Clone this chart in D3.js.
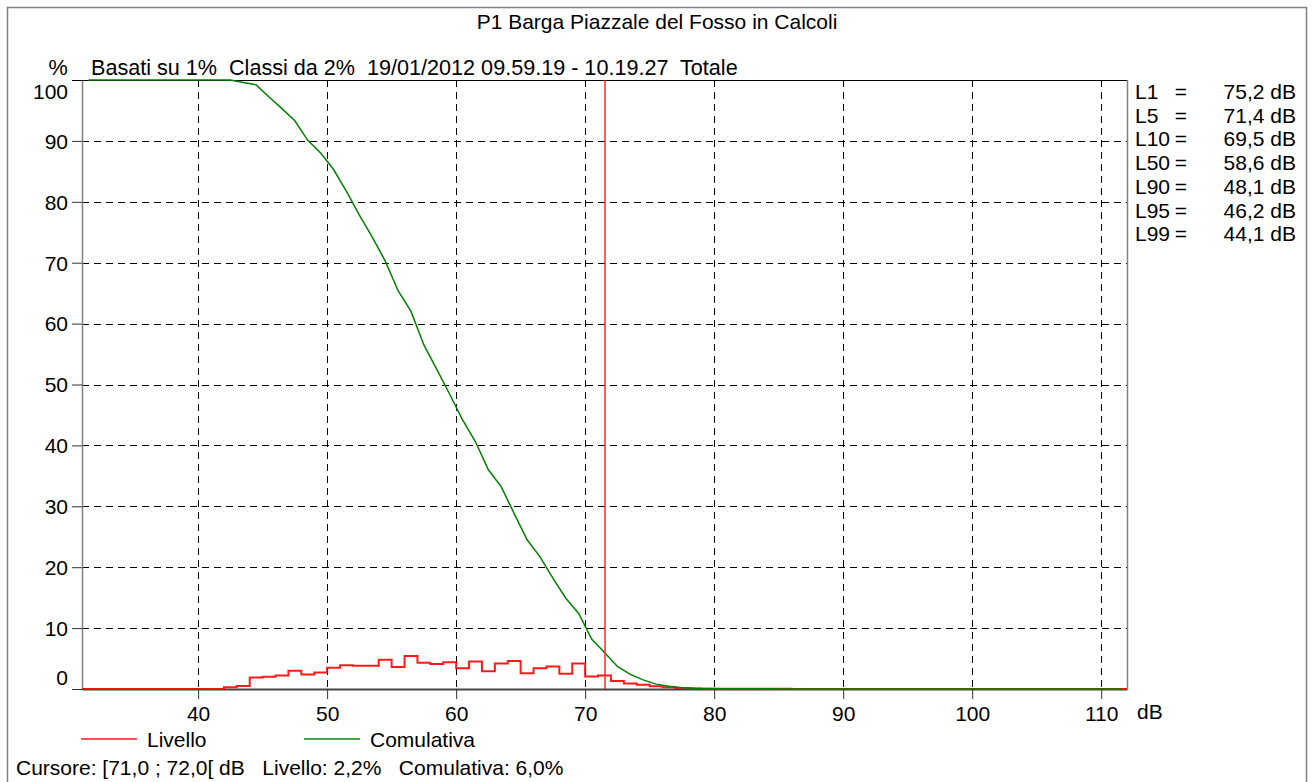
<!DOCTYPE html>
<html>
<head>
<meta charset="utf-8">
<script src="https://cdn.jsdelivr.net/npm/d3@7"></script>
<style>
  html, body { margin: 0; padding: 0; background: #fff; }
  svg { display: block; }
  text { font-family: "Liberation Sans", Arial, Helvetica, sans-serif; fill: #000; white-space: pre; }
</style>
</head>
<body>
<svg id="chart" width="1313" height="782"></svg>
<script>
// Level classes (lower edge of each 1 dB class) and percentage of time in each class
const levelClasses = [31,32,33,34,35,36,37,38,39,40,41,42,43,44,45,46,47,48,49,50,51,52,53,54,55,56,57,58,59,60,61,62,63,64,65,66,67,68,69,70,71,72,73,74,75,76,77,78,79,80,81,82,83,84,85,86,87,88,89,90,91,92,93,94,95,96,97,98,99,100,101,102,103,104,105,106,107,108,109,110,111];
const livello = [0,0,0,0,0,0,0,0,0,0,0,0.3,0.5,1.9,2.0,2.2,3.0,2.4,2.7,3.5,3.9,3.8,3.8,4.8,3.6,5.4,4.3,4.1,4.4,3.4,4.5,2.9,4.2,4.6,2.6,3.4,3.7,2.5,4.2,2.05,2.2,1.3,0.9,0.7,0.45,0.27,0.16,0.1,0.06,0.03,0.03,0.03,0.03,0.03,0.03,0,0,0,0,0,0,0,0,0,0,0,0,0,0,0,0,0,0,0,0,0,0,0,0,0,0];

// Cumulative curve, sampled at class centres
const cumCentres = [31.5,32.5,33.5,34.5,35.5,36.5,37.5,38.5,39.5,40.5,41.5,42.5,43.5,44.5,45.5,46.5,47.5,48.5,49.5,50.5,51.5,52.5,53.5,54.5,55.5,56.5,57.5,58.5,59.5,60.5,61.5,62.5,63.5,64.5,65.5,66.5,67.5,68.5,69.5,70.5,71.5,72.5,73.5,74.5,75.5,76.5,77.5,78.5,79.5,80.5,81.5,82.5,83.5,84.5,85.5,86.5,87.5,88.5,89.5,90.5,91.5,92.5,93.5,94.5,95.5,96.5,97.5,98.5,99.5,100.5,101.5,102.5,103.5,104.5,105.5,106.5,107.5,108.5,109.5,110.5,111.5];
const comulativa = [100,100,100,100,100,100,100,100,100,100,100,100,99.6,99.2,97.2,95.3,93.3,90.1,88.0,85.3,81.7,77.8,74.2,70.3,65.4,62.0,56.5,52.5,48.4,44.2,40.6,36.0,33.2,28.8,24.5,21.7,18.2,14.9,12.4,8.2,6.0,3.7,2.4,1.5,0.8,0.45,0.22,0.12,0.08,0.05,0.05,0.05,0.04,0.03,0.02,0,0,0,0,0,0,0,0,0,0,0,0,0,0,0,0,0,0,0,0,0,0,0,0,0,0];

const xTicks = [40,50,60,70,80,90,100,110];
const yTicks = [0,10,20,30,40,50,60,70,80,90,100];

const statNames = ["L1","L5","L10","L50","L90","L95","L99"];
const statValues = ["75,2","71,4","69,5","58,6","48,1","46,2","44,1"];

const title = "P1 Barga Piazzale del Fosso in Calcoli";
const subtitle = "Basati su 1%  Classi da 2%  19/01/2012 09.59.19 - 10.19.27  Totale";
const cursorRange = [71, 72];
const cursorText = "Cursore: [71,0 ; 72,0[ dB   Livello: 2,2%   Comulativa: 6,0%";

const FONT = 21;
const HEADER_FONT = 21.6;
const AXIS_FONT = 21;
const svg = d3.select("#chart");
const plot = { left: 82, right: 1127, top: 80, bottom: 689 };

const x = d3.scaleLinear().domain([31, 112]).range([plot.left, plot.right]);
const y = d3.scaleLinear().domain([0, 100]).range([plot.bottom, plot.top]);

// outer frame
svg.append("rect")
  .attr("x", 7.5).attr("y", 7.5).attr("width", 1299).attr("height", 800)
  .attr("fill", "none").attr("stroke", "#808080").attr("stroke-width", 1.5);

// title and header line
svg.append("text").attr("x", 657).attr("y", 29).attr("text-anchor", "middle")
  .attr("font-size", FONT).text(title);
svg.append("text").attr("x", 58).attr("y", 75).attr("text-anchor", "middle")
  .attr("font-size", HEADER_FONT).text("%");
svg.append("text").attr("x", 91).attr("y", 75).attr("font-size", HEADER_FONT).text(subtitle);

// dashed grid
const grid = svg.append("g").attr("stroke", "#000").attr("stroke-width", 1)
  .attr("stroke-dasharray", "7,5").attr("fill", "none");
grid.selectAll("line.v").data(xTicks).join("line").attr("class", "v")
  .attr("x1", d => Math.round(x(d)) + 0.5).attr("x2", d => Math.round(x(d)) + 0.5)
  .attr("y1", plot.top).attr("y2", plot.bottom);
grid.selectAll("line.h").data(yTicks.filter(d => d > 0 && d < 100)).join("line").attr("class", "h")
  .attr("y1", d => Math.round(y(d)) + 0.5).attr("y2", d => Math.round(y(d)) + 0.5)
  .attr("x1", plot.left).attr("x2", plot.right);

// y axis
const yAxis = d3.axisLeft(y).tickValues(yTicks).tickSize(10).tickSizeOuter(0).tickPadding(4);
const gy = svg.append("g").attr("transform", `translate(${plot.left},0)`).call(yAxis);
gy.select(".domain").attr("stroke", "#808080").attr("stroke-width", 1.5);
gy.selectAll(".tick line").attr("stroke", "#333");
gy.selectAll(".tick text")
  .attr("font-size", AXIS_FONT).attr("font-family", null).attr("fill", "#000")
  .attr("dy", d => d === 0 ? "-0.2em" : d === 100 ? "0.9em" : "0.35em");

// x axis
const xAxis = d3.axisBottom(x).tickValues(xTicks).tickSize(10).tickSizeOuter(0).tickPadding(4);
const gx = svg.append("g").attr("transform", `translate(0,${plot.bottom})`).call(xAxis);
gx.select(".domain").attr("stroke", "#444").attr("stroke-width", 2);
gx.selectAll(".tick line").attr("stroke", "#333");
gx.selectAll(".tick text").attr("font-size", AXIS_FONT).attr("font-family", null).attr("fill", "#000")
  .attr("dy", "0.88em");
svg.append("text").attr("x", 1137).attr("y", 719).attr("font-size", AXIS_FONT).text("dB");

// top and right borders of the plot
svg.append("line").attr("x1", plot.left - 10).attr("x2", plot.right)
  .attr("y1", plot.top + 0.5).attr("y2", plot.top + 0.5).attr("stroke", "#000").attr("stroke-width", 1.2);
svg.append("line").attr("x1", plot.right + 0.5).attr("x2", plot.right + 0.5)
  .attr("y1", plot.top).attr("y2", plot.bottom).attr("stroke", "#808080").attr("stroke-width", 1.5);

// level distribution as a step line
const stepPts = levelClasses.map((c, i) => [c, livello[i]]);
stepPts.push([112, livello[livello.length - 1]]);
svg.append("path").datum(stepPts)
  .attr("fill", "none").attr("stroke", "#ff0000").attr("stroke-width", 2).attr("stroke-opacity", 0.9)
  .attr("d", d3.line().x(d => x(d[0])).y(d => y(d[1])).curve(d3.curveStepAfter));

// cumulative curve
svg.append("path").datum(cumCentres.map((c, i) => [c, comulativa[i]]))
  .attr("fill", "none").attr("stroke", "#008000").attr("stroke-width", 1.5)
  .attr("d", d3.line().x(d => x(d[0])).y(d => y(d[1])));

// cursor
const cx = Math.round(x((cursorRange[0] + cursorRange[1]) / 2));
svg.append("line").attr("x1", cx).attr("x2", cx).attr("y1", plot.top).attr("y2", plot.bottom)
  .attr("stroke", "#ff1a1a").attr("stroke-width", 1.4);

// statistics panel
const stats = svg.append("g").attr("font-size", FONT);
statNames.forEach((n, i) => {
  const ty = 99 + i * 23.7;
  stats.append("text").attr("x", 1135).attr("y", ty).text(n);
  stats.append("text").attr("x", 1181).attr("y", ty).attr("text-anchor", "middle").text("=");
  stats.append("text").attr("x", 1296).attr("y", ty).attr("text-anchor", "end").text(statValues[i] + " dB");
});

// legend
const legend = [
  { name: "Livello", color: "#ff1a1a", x: 81 },
  { name: "Comulativa", color: "#0a8a0a", x: 304 }
];
legend.forEach(l => {
  svg.append("line").attr("x1", l.x).attr("x2", l.x + 56).attr("y1", 739).attr("y2", 739)
    .attr("stroke", l.color).attr("stroke-width", 1.6);
  svg.append("text").attr("x", l.x + 66).attr("y", 746.5).attr("font-size", FONT).text(l.name);
});

// cursor readout
svg.append("text").attr("x", 16).attr("y", 774.5).attr("font-size", FONT).text(cursorText);
</script>
</body>
</html>
